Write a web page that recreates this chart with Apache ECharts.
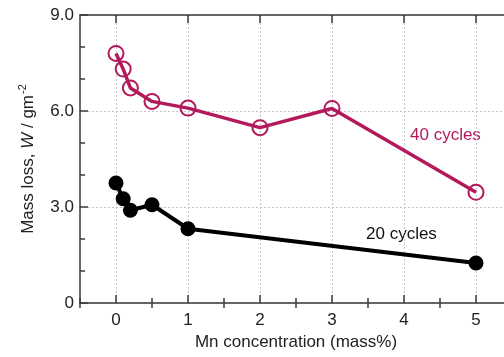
<!DOCTYPE html>
<html>
<head>
<meta charset="utf-8">
<script src="https://cdn.jsdelivr.net/npm/echarts@6/dist/echarts.min.js"></script>
<style>
  html, body { margin: 0; padding: 0; background: #fff; }
  #chart { width: 504px; height: 357px; }
</style>
</head>
<body>
<div id="chart"></div>
<script>
// Mn concentration (mass%)
var mn40 = [0, 0.1, 0.2, 0.5, 1, 2, 3, 5];
var loss40 = [7.8, 7.31, 6.72, 6.3, 6.09, 5.48, 6.08, 3.46];
var mn20 = [0, 0.1, 0.2, 0.5, 1, 5];
var loss20 = [3.75, 3.26, 2.9, 3.07, 2.32, 1.25];
var xTicks = [0, 1, 2, 3, 4, 5];
var xMinorTicks = [-0.5, 0.5, 1.5, 2.5, 3.5, 4.5, 5.5];

var FONT = '"Liberation Sans", Arial, sans-serif';
var MAGENTA = '#b3195b';
var AXIS = '#3a3a3a';

function pairs(xs, ys) {
    return xs.map(function (x, i) { return [x, ys[i]]; });
}

var chart = echarts.init(document.getElementById('chart'));

var baseX = {
    type: 'value',
    min: -0.5,
    max: 5.5
};

var option = {
    animation: false,
    backgroundColor: '#fff',
    // plot runs past the right edge of the picture, as in the original
    grid: { left: 80, top: 15, width: 432, height: 288, outerBoundsMode: 'none' },
    xAxis: [
        Object.assign({}, baseX, {
            position: 'bottom',
            name: 'Mn concentration (mass%)',
            nameLocation: 'middle',
            nameGap: 30,
            nameTextStyle: { fontSize: 17, color: '#222', fontFamily: FONT },
            axisLine: { onZero: false, lineStyle: { color: AXIS, width: 1.5 } },
            axisTick: { inside: true, length: 8, customValues: xTicks, lineStyle: { color: AXIS, width: 1.5 } },
            axisLabel: { customValues: xTicks, fontSize: 17, color: '#222', fontFamily: FONT, margin: 9 },
            splitLine: { show: true, lineStyle: { color: '#c4c4c4', type: [2, 2], width: 1 } }
        }),
        Object.assign({}, baseX, {
            position: 'bottom',
            axisLine: { show: false },
            axisTick: { inside: true, length: 5, customValues: xMinorTicks, lineStyle: { color: AXIS, width: 1.5 } },
            axisLabel: { show: false },
            splitLine: { show: false }
        }),
        Object.assign({}, baseX, {
            position: 'top',
            axisLine: { onZero: false, lineStyle: { color: AXIS, width: 1.5 } },
            axisTick: { inside: true, length: 8, customValues: xTicks, lineStyle: { color: AXIS, width: 1.5 } },
            axisLabel: { show: false },
            splitLine: { show: false }
        }),
        Object.assign({}, baseX, {
            position: 'top',
            axisLine: { show: false },
            axisTick: { inside: true, length: 5, customValues: xMinorTicks, lineStyle: { color: AXIS, width: 1.5 } },
            axisLabel: { show: false },
            splitLine: { show: false }
        })
    ],
    yAxis: [
        {
            type: 'value',
            min: 0,
            max: 9,
            interval: 3,
            position: 'left',
            name: '{a|Mass loss, }{i|W}{a| / gm}{s|-2}',
            nameLocation: 'middle',
            nameGap: 40,
            nameTextStyle: {
                color: '#222',
                rich: {
                    a: { fontSize: 17, fontFamily: FONT, color: '#222' },
                    i: { fontSize: 17, fontFamily: FONT, fontStyle: 'italic', color: '#222' },
                    s: { fontSize: 11, fontFamily: FONT, color: '#222', padding: [0, 0, 12, 1] }
                }
            },
            axisLine: { show: true, onZero: false, lineStyle: { color: AXIS, width: 1.5 } },
            axisTick: { inside: true, length: 8, lineStyle: { color: AXIS, width: 1.5 } },
            minorTick: { show: true, splitNumber: 3, length: 5, lineStyle: { color: AXIS, width: 1.5 } },
            axisLabel: {
                fontSize: 17, color: '#222', fontFamily: FONT, margin: 6,
                formatter: function (v) { return v === 0 ? '0' : v.toFixed(1); }
            },
            splitLine: { show: true, lineStyle: { color: '#c4c4c4', type: [2, 2], width: 1 } }
        },
        {
            type: 'value',
            min: 0,
            max: 9,
            interval: 3,
            position: 'right',
            axisLine: { show: true, onZero: false, lineStyle: { color: AXIS, width: 1.5 } },
            axisTick: { inside: true, length: 8, lineStyle: { color: AXIS, width: 1.5 } },
            minorTick: { show: true, splitNumber: 3, length: 5, lineStyle: { color: AXIS, width: 1.5 } },
            axisLabel: { show: false },
            splitLine: { show: false }
        }
    ],
    series: [
        {
            name: '20 cycles',
            type: 'line',
            data: pairs(mn20, loss20),
            symbol: 'circle',
            symbolSize: 15,
            lineStyle: { color: '#000', width: 4 },
            itemStyle: { color: '#000' },
            z: 3
        },
        {
            name: '40 cycles',
            type: 'line',
            data: pairs(mn40, loss40),
            symbol: 'circle',
            symbolSize: 15,
            lineStyle: { color: MAGENTA, width: 3.5 },
            itemStyle: { color: 'rgba(255,255,255,0)', borderColor: MAGENTA, borderWidth: 2 },
            z: 4
        }
    ],
    graphic: [
        {
            type: 'text', left: 410, top: 127,
            style: { text: '40 cycles', fill: MAGENTA, font: '17px ' + FONT }
        },
        {
            type: 'text', left: 366, top: 226,
            style: { text: '20 cycles', fill: '#111', font: '17px ' + FONT }
        }
    ]
};

chart.setOption(option);
</script>
</body>
</html>
